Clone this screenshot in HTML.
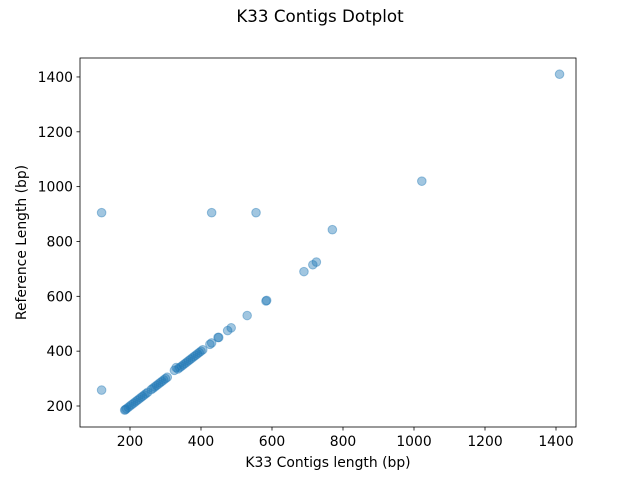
<!DOCTYPE html>
<html><head><meta charset="utf-8"><style>
body{margin:0;background:#fff}
svg text{font-family:"DejaVu Sans","Liberation Sans",sans-serif;fill:#000}
</style></head><body>
<svg width="640" height="480" xmlns="http://www.w3.org/2000/svg">
<rect width="640" height="480" fill="#fff"/>
<text x="320" y="22" font-size="16.7" text-anchor="middle">K33 Contigs Dotplot</text>
<g id="points"></g>
<rect x="80" y="58" width="496" height="369" fill="none" stroke="#000" stroke-width="0.8"/>
<g id="xt"></g>
<g id="yt"></g>
<text x="328" y="467" font-size="13.9" text-anchor="middle">K33 Contigs length (bp)</text>
<text transform="translate(26,242.5) rotate(-90)" font-size="13.9" text-anchor="middle">Reference Length (bp)</text>
</svg>
<script>
const xValues=[120,120,430,555,1410,1022,770,725,715,690,585,583,530,485,475,450,448,430,425,405,400,395,390,385,380,375,370,365,360,355,350,345,340,335,330,325,305,300,295,290,285,280,275,270,265,260,250,245,240,235,230,225,220,215,210,205,200,195,190,187,185];
const yValues=[905,258,905,905,1410,1020,843,725,715,690,585,583,530,485,475,450,450,430,425,405,400,395,390,385,380,375,370,365,360,355,350,345,340,335,340,330,305,300,295,290,285,280,275,270,265,260,250,245,240,235,230,225,220,215,210,205,200,195,190,187,185];
const xTicks=[200,400,600,800,1000,1200,1400];
const yTicks=[200,400,600,800,1000,1200,1400];
const NS="http://www.w3.org/2000/svg";
const xs=v=>130+(v-200)*0.355;
const ys=v=>406-(v-200)*0.2742;
const pg=document.getElementById('points');
xValues.forEach((x,i)=>{
 const c=document.createElementNS(NS,'circle');
 c.setAttribute('cx',xs(x));c.setAttribute('cy',ys(yValues[i]));c.setAttribute('r',4.3);
 c.setAttribute('fill','#1f77b4');c.setAttribute('fill-opacity','0.42');
 c.setAttribute('stroke','#1f77b4');c.setAttribute('stroke-opacity','0.42');
 
 
 pg.appendChild(c);
});
const xg=document.getElementById('xt');
xTicks.forEach(t=>{
 const l=document.createElementNS(NS,'line');
 l.setAttribute('x1',xs(t));l.setAttribute('x2',xs(t));l.setAttribute('y1',427);l.setAttribute('y2',430.5);l.setAttribute('stroke','#000');l.setAttribute('stroke-width','0.8');
 
 
 xg.appendChild(l);
 const tx=document.createElementNS(NS,'text');
 tx.setAttribute('x',xs(t));tx.setAttribute('y',446);tx.setAttribute('font-size','13.9');tx.setAttribute('text-anchor','middle');tx.textContent=t;
 
 
 xg.appendChild(tx);
});
const yg=document.getElementById('yt');
yTicks.forEach(t=>{
 const l=document.createElementNS(NS,'line');
 l.setAttribute('x1',76.5);l.setAttribute('x2',80);l.setAttribute('y1',ys(t));l.setAttribute('y2',ys(t));l.setAttribute('stroke','#000');l.setAttribute('stroke-width','0.8');
 
 
 yg.appendChild(l);
 const tx=document.createElementNS(NS,'text');
 tx.setAttribute('x',73);tx.setAttribute('y',ys(t)+5);tx.setAttribute('font-size','13.9');tx.setAttribute('text-anchor','end');tx.textContent=t;
 
 
 yg.appendChild(tx);
});
</script>
</body></html>
